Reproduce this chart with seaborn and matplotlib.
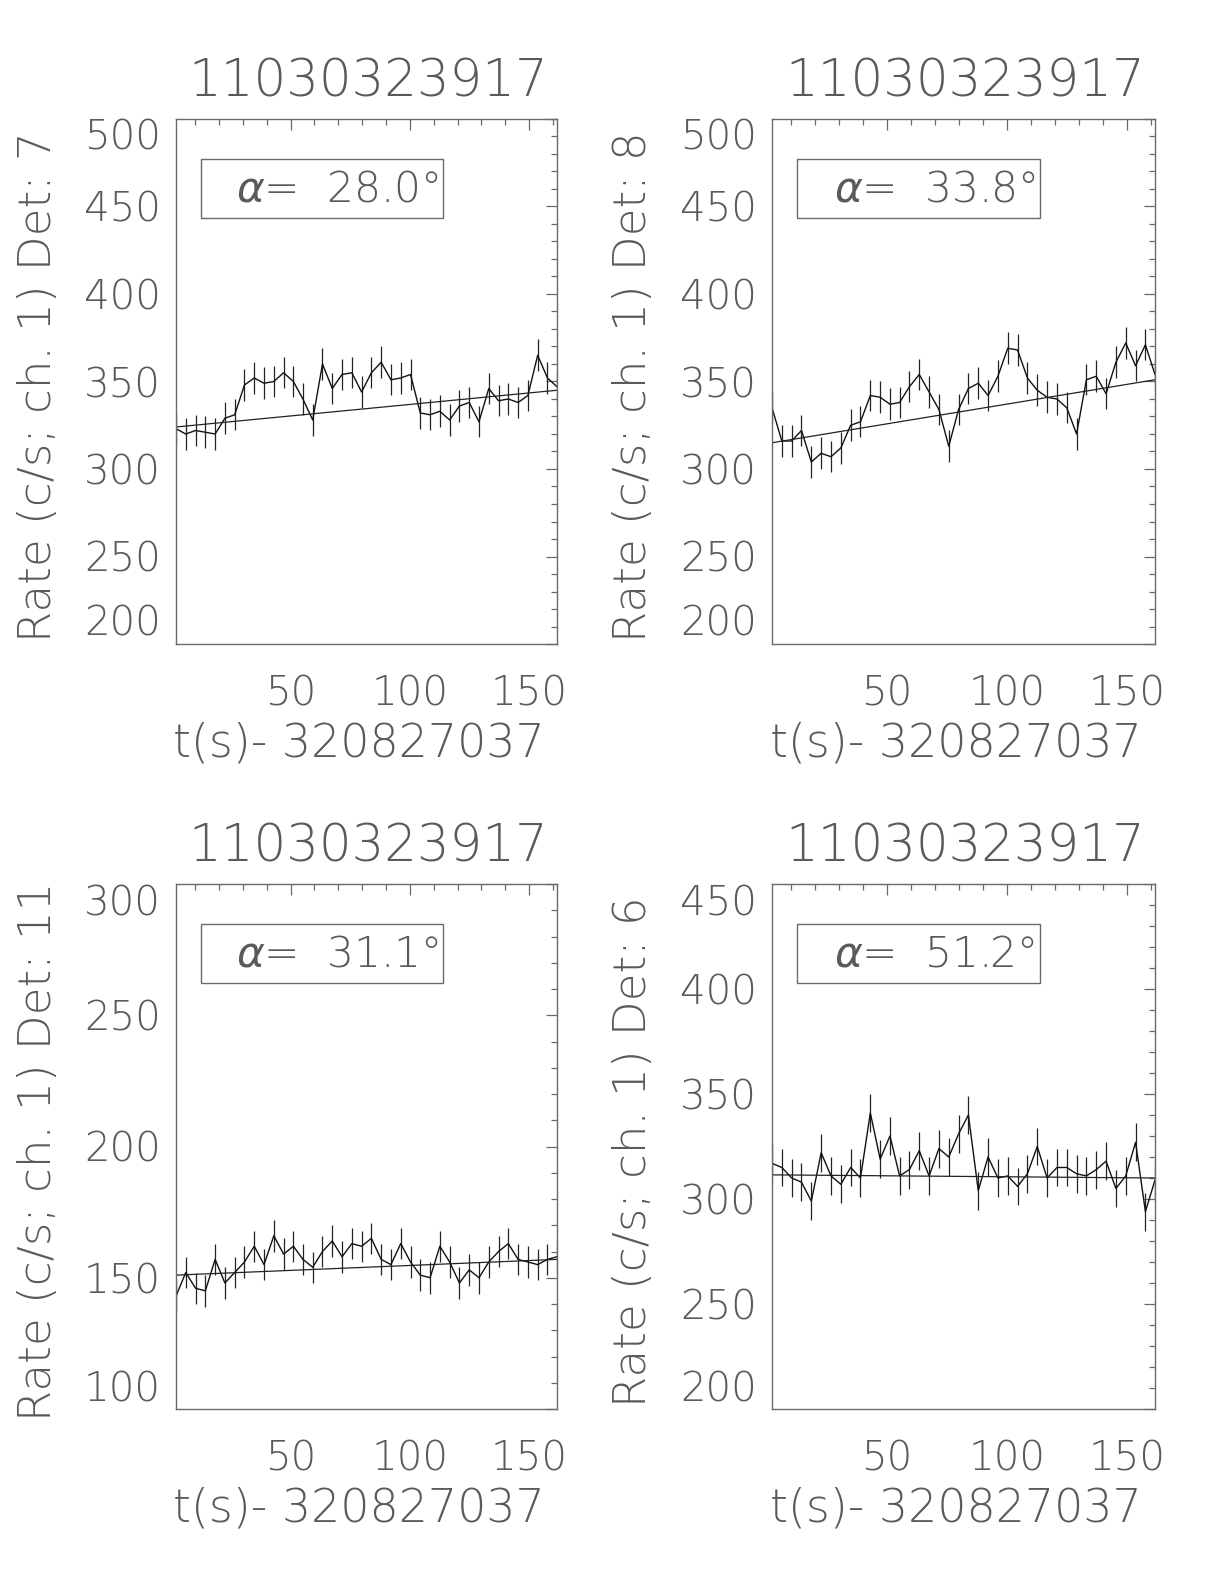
import matplotlib
matplotlib.use("Agg")
import matplotlib.pyplot as plt
from matplotlib.patches import Rectangle
from matplotlib.ticker import MultipleLocator
import pandas as pd
import seaborn as sns

sns.set_style("white")
plt.rcParams['font.family'] = ['DejaVu Sans']
plt.rcParams['mathtext.fontset'] = 'dejavusans'

# time bins (s after 320827037)
t = [2.0, 6.1, 10.2, 14.3, 18.4, 22.5, 26.6, 30.7, 34.8, 38.9,
     43.0, 47.1, 51.2, 55.2, 59.3, 63.4, 67.5, 71.6, 75.7, 79.8,
     83.9, 88.0, 92.1, 96.2, 100.3, 104.4, 108.5, 112.6, 116.7, 120.8,
     124.9, 129.0, 133.1, 137.2, 141.3, 145.4, 149.5, 153.6, 157.7, 161.7]

rate_det7 = [323, 320, 322, 321, 320, 329, 331, 348, 352, 349,
             350, 355, 350, 340, 328, 360, 346, 354, 355, 344,
             355, 361, 351, 352, 354, 332, 331, 333, 328, 336,
             338, 327, 346, 339, 340, 338, 342, 365, 352, 347]
rate_det8 = [335, 316, 316, 322, 304, 309, 307, 312, 325, 327,
             342, 341, 337, 338, 347, 354, 344, 334, 313, 334,
             346, 349, 342, 353, 369, 368, 352, 345, 341, 340,
             335, 320, 351, 353, 343, 361, 372, 359, 371, 354]
rate_det11 = [143, 152, 146, 145, 157, 148, 152, 156, 162, 155,
              166, 159, 162, 157, 154, 160, 164, 158, 163, 162,
              165, 157, 155, 163, 156, 151, 150, 162, 156, 148,
              153, 150, 156, 160, 163, 157, 156, 155, 157, 158]
rate_det6 = [317, 315, 310, 308, 299, 322, 311, 307, 315, 310,
             341, 319, 330, 311, 314, 323, 311, 324, 320, 331,
             340, 304, 320, 310, 311, 306, 312, 325, 310, 315,
             315, 312, 311, 314, 318, 305, 311, 327, 294, 309]

# fitted trend, value at first and last bin
fit_det7 = [324, 345]
fit_det8 = [315, 351]
fit_det11 = [151, 157]
fit_det6 = [311.5, 310]

err_det7 = 9.0
err_det8 = 9.0
err_det11 = 6.0
err_det6 = 9.0

titles = ["11030323917"] * 4
detectors = ["7", "8", "11", "6"]
alphas = ["28.0", "33.8", "31.1", "51.2"]
ylims = [(200, 500), (200, 500), (100, 300), (200, 450)]

panels = [
    (rate_det7, fit_det7, err_det7),
    (rate_det8, fit_det8, err_det8),
    (rate_det11, fit_det11, err_det11),
    (rate_det6, fit_det6, err_det6),
]

W, H = 1224, 1584
fig = plt.figure(figsize=(W / 100, H / 100), dpi=100)
# axes frames in pixels: left, top, right, bottom
frames = [(176, 119, 557, 644), (772, 119, 1155, 644),
          (176, 884, 557, 1409), (772, 884, 1155, 1409)]

txt = '#5a5a5a'
frame_col = '#6a6a6a'
wt = 200

for i, (rate, fit, err) in enumerate(panels):
    l, tp, r, b = frames[i]
    ax = fig.add_axes([l / W, 1 - b / H, (r - l) / W, (b - tp) / H])
    df = pd.DataFrame({'t': t, 'rate': rate})
    ax.errorbar(df.t, df.rate, yerr=err, fmt='none', ecolor='#222222',
                elinewidth=0.9, capsize=0)
    sns.lineplot(data=df, x='t', y='rate', ax=ax, color='#111111',
                 lw=1.0, estimator=None)
    fit_df = pd.DataFrame({'t': [t[0], t[-1]], 'rate': fit})
    sns.lineplot(data=fit_df, x='t', y='rate', ax=ax, color='#222222',
                 lw=0.9, estimator=None)

    ax.set_xlim(t[0], t[-1])
    ax.set_ylim(*ylims[i])
    ax.xaxis.set_major_locator(MultipleLocator(50))
    ax.xaxis.set_minor_locator(MultipleLocator(10))
    ax.yaxis.set_major_locator(MultipleLocator(50))
    ax.yaxis.set_minor_locator(MultipleLocator(10))
    ax.tick_params(which='both', direction='in', top=True, right=True,
                   color=frame_col, width=0.9)
    ax.tick_params(which='major', length=8, labelsize=29, labelcolor=txt)
    ax.tick_params(which='minor', length=4.5)
    ax.tick_params(axis='x', which='major', pad=22)
    ax.tick_params(axis='y', which='major', pad=11)
    for s in ax.spines.values():
        s.set_color(frame_col)
        s.set_linewidth(1.0)
    ax.set_xlabel('')
    ax.set_ylabel('')
    for lab in ax.get_xticklabels() + ax.get_yticklabels():
        lab.set_fontweight(wt)

    fig.canvas.draw()
    ylabs = [lb for lb in ax.get_yticklabels()
             if ylims[i][0] <= lb.get_position()[1] <= ylims[i][1]]
    ylabs[-1].set_verticalalignment('top')
    ylabs[0].set_verticalalignment('bottom')

    ax.text(0.505, 1.07, titles[i], transform=ax.transAxes, ha='center',
            va='center', fontsize=37, color=txt, fontweight=wt)
    ax.text(0.48, -0.19, 't(s)- 320827037', transform=ax.transAxes,
            ha='center', va='center', fontsize=33, color=txt,
            fontweight=wt)
    ax.text(-0.362, 0.49, 'Rate (c/s; ch. 1) Det: ' + detectors[i],
            transform=ax.transAxes, ha='center', va='center', rotation=90,
            fontsize=32.5, color=txt, fontweight=wt)

    ax.add_patch(Rectangle((0.066, 0.811), 0.635, 0.112,
                           transform=ax.transAxes, fill=False,
                           edgecolor=frame_col, lw=1.0))
    ax.text(0.425, 0.867, r'$\alpha$=  ' + alphas[i] + '°',
            transform=ax.transAxes, ha='center', va='center',
            fontsize=30.5, color=txt, fontweight=wt)

fig.savefig('out.png', dpi=100)
